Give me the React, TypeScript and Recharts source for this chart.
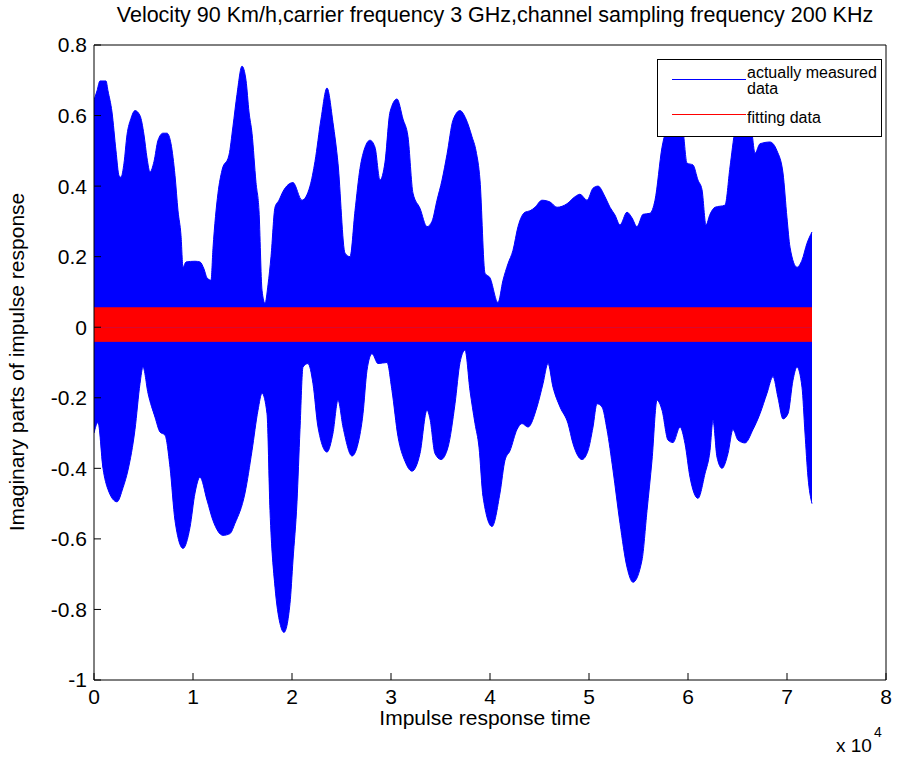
import React from 'react';
import { ComposedChart, Area, XAxis, YAxis } from 'recharts';

// Envelope of the measured (blue) impulse response: [time, value]
const measuredUpper: [number, number][] = [
  [0,0.644],[303,0.67],[606,0.698],[1212,0.698],[1414,0.67],[1818,0.61],[2222,0.50],[2525,0.43],[2727,0.425],[3030,0.465],
  [3333,0.545],[3737,0.592],[4141,0.614],[4646,0.60],[5051,0.545],[5354,0.48],[5657,0.44],[6061,0.47],[6465,0.53],[6970,0.55],
  [7374,0.55],[7778,0.52],[8182,0.43],[8485,0.33],[8788,0.26],[8990,0.17],[9293,0.185],[10202,0.187],[10707,0.185],[11111,0.165],
  [11414,0.14],[11818,0.133],[12020,0.224],[12525,0.38],[12929,0.445],[13636,0.488],[14040,0.57],[14444,0.66],[14949,0.74],[15354,0.70],
  [15657,0.61],[15960,0.55],[16364,0.41],[16667,0.33],[16970,0.105],[17273,0.068],[17576,0.12],[17879,0.2],[18283,0.34],[18687,0.36],
  [19091,0.385],[20101,0.41],[21010,0.36],[21818,0.40],[22323,0.47],[22929,0.59],[23535,0.678],[24141,0.58],[24646,0.465],[25354,0.21],
  [25859,0.2],[26364,0.33],[26869,0.45],[27374,0.51],[27879,0.53],[28384,0.51],[28889,0.417],[29394,0.468],[29899,0.61],[30606,0.647],
  [31212,0.59],[31717,0.54],[32222,0.38],[32929,0.337],[33636,0.285],[34141,0.30],[34646,0.36],[35152,0.417],[35657,0.49],[36263,0.587],
  [36970,0.614],[37576,0.59],[38182,0.54],[38586,0.50],[38990,0.417],[39495,0.153],[40000,0.14],[40808,0.07],[41313,0.133],[41818,0.18],
  [42323,0.218],[42828,0.285],[43535,0.326],[44040,0.33],[44545,0.34],[45253,0.36],[46061,0.355],[46768,0.34],[47778,0.35],[48586,0.37],
  [49091,0.377],[49798,0.36],[50404,0.394],[50909,0.40],[51616,0.37],[52121,0.34],[52626,0.318],[53131,0.29],[53838,0.326],[54343,0.31],
  [54848,0.285],[55455,0.32],[56162,0.323],[56667,0.36],[57374,0.51],[57778,0.56],[58384,0.62],[58990,0.62],[59495,0.56],[59899,0.465],
  [60505,0.46],[61010,0.417],[61414,0.39],[61818,0.29],[62222,0.32],[62727,0.34],[63737,0.346],[64242,0.454],[64747,0.56],[65758,0.64],
  [66465,0.55],[66768,0.493],[67273,0.52],[68283,0.525],[68990,0.50],[69596,0.437],[69999,0.31],[70303,0.227],[71010,0.17],[71515,0.19],
  [72020,0.238],[72525,0.27],
];

const measuredLower: [number, number][] = [
  [0,-0.30],[404,-0.27],[909,-0.40],[1414,-0.46],[2323,-0.495],[2929,-0.455],[3434,-0.405],[4141,-0.29],[4646,-0.16],[4949,-0.113],
  [5455,-0.187],[6162,-0.255],[6667,-0.297],[7172,-0.306],[7677,-0.397],[8182,-0.548],[8990,-0.627],[9697,-0.567],[10202,-0.47],[10707,-0.425],
  [11414,-0.49],[12020,-0.548],[13030,-0.59],[13737,-0.585],[14242,-0.556],[15253,-0.47],[15960,-0.35],[16566,-0.235],[16970,-0.187],[17475,-0.245],
  [17778,-0.52],[18283,-0.737],[18788,-0.84],[19192,-0.865],[19798,-0.783],[20101,-0.66],[20505,-0.495],[20808,-0.29],[21111,-0.113],[21616,-0.103],
  [22121,-0.16],[22626,-0.283],[23535,-0.354],[24141,-0.30],[24646,-0.207],[25152,-0.283],[26061,-0.365],[26667,-0.33],[27172,-0.245],[27576,-0.122],
  [28081,-0.075],[28687,-0.103],[29596,-0.10],[30101,-0.18],[30707,-0.31],[31414,-0.38],[32121,-0.408],[32929,-0.358],[33636,-0.235],[33939,-0.26],
  [34444,-0.358],[35051,-0.375],[35758,-0.34],[36465,-0.217],[36970,-0.10],[37475,-0.065],[37980,-0.18],[38485,-0.273],[38889,-0.34],[39293,-0.48],
  [40202,-0.565],[41010,-0.47],[41515,-0.377],[42020,-0.35],[42727,-0.29],[43232,-0.273],[43838,-0.283],[44747,-0.226],[45354,-0.16],[45859,-0.103],
  [46364,-0.17],[47071,-0.226],[47879,-0.273],[48384,-0.33],[49293,-0.375],[49899,-0.35],[50404,-0.283],[50808,-0.217],[51313,-0.226],[51818,-0.29],
  [52424,-0.405],[53131,-0.556],[53838,-0.68],[54444,-0.723],[55354,-0.66],[55859,-0.52],[56364,-0.377],[56869,-0.207],[57374,-0.235],[57980,-0.32],
  [58485,-0.327],[59192,-0.283],[59697,-0.33],[60202,-0.425],[61010,-0.485],[61717,-0.415],[62222,-0.35],[62525,-0.264],[62929,-0.368],[63434,-0.40],
  [64040,-0.358],[64545,-0.29],[65051,-0.32],[65758,-0.328],[66566,-0.29],[67273,-0.245],[67980,-0.187],[68586,-0.14],[69091,-0.20],[69596,-0.26],
  [70101,-0.245],[70606,-0.15],[71010,-0.113],[71515,-0.17],[71818,-0.30],[72121,-0.425],[72525,-0.50],
];

// Fitting data (red) band: [time, upper, lower]
const fittingBand: [number, number, number][] = [
  [0, 0.055, -0.04],
  [72525, 0.055, -0.04],
];

const xTicks = [0, 10000, 20000, 30000, 40000, 50000, 60000, 70000, 80000];
const yTicks = [-1, -0.8, -0.6, -0.4, -0.2, 0, 0.2, 0.4, 0.6, 0.8];

const title = 'Velocity 90 Km/h,carrier frequency 3 GHz,channel sampling frequency 200 KHz';
const xLabel = 'Impulse response time';
const yLabel = 'Imaginary parts of impulse response';
const legendMeasured = ['actually measured', 'data'];
const legendFitting = 'fitting data';

type Row = { x: number; hi?: number; lo?: number; fhi?: number; flo?: number };

const rows: Row[] = [
  ...measuredUpper.map(([x, v]) => ({ x, hi: v })),
  ...measuredLower.map(([x, v]) => ({ x, lo: v })),
  ...fittingBand.map(([x, h, l]) => ({ x, fhi: h, flo: l })),
].sort((a, b) => a.x - b.x);

const FONT = '"Liberation Sans", Arial, Helvetica, sans-serif';
const W = 900;
const H = 757;

const tickStyle = { fill: '#000', fontSize: 21, fontFamily: FONT };
const fmtX = (v: number) => String(v / 10000);
const fmtY = (v: number) => String(Math.round(v * 10) / 10);

export default function App() {
  return (
    <div style={{ position: 'absolute', left: 0, top: 0, width: W, height: H, background: '#fff', overflow: 'hidden' }}>
      <ComposedChart
        width={W}
        height={H}
        data={rows}
        margin={{ top: 40, right: 9, bottom: 47, left: 34 }}
      >
        <XAxis
          dataKey="x"
          type="number"
          domain={[0, 80000]}
          ticks={xTicks}
          interval={0}
          tickFormatter={fmtX}
          tick={tickStyle}
          tickSize={-7}
          tickMargin={16}
          height={30}
          axisLine={{ stroke: '#000' }}
          tickLine={{ stroke: '#000' }}
          allowDataOverflow
        />
        <XAxis
          xAxisId="top"
          orientation="top"
          dataKey="x"
          type="number"
          domain={[0, 80000]}
          ticks={xTicks}
          interval={0}
          tick={false}
          tickSize={-7}
          height={5}
          axisLine={{ stroke: '#000' }}
          tickLine={{ stroke: '#000' }}
          allowDataOverflow
        />
        <YAxis
          type="number"
          domain={[-1, 0.8]}
          ticks={yTicks}
          interval={0}
          tickFormatter={fmtY}
          tick={tickStyle}
          tickSize={-7}
          tickMargin={14}
          width={60}
          axisLine={{ stroke: '#000' }}
          tickLine={{ stroke: '#000' }}
          allowDataOverflow
        />
        <YAxis
          yAxisId="right"
          orientation="right"
          type="number"
          domain={[-1, 0.8]}
          ticks={yTicks}
          interval={0}
          tick={false}
          tickSize={-7}
          width={5}
          axisLine={{ stroke: '#000' }}
          tickLine={{ stroke: '#000' }}
          allowDataOverflow
        />
        <Area dataKey="hi" type="monotone" baseValue={0} connectNulls stroke="#0000ff" strokeWidth={1} fill="#0000ff" fillOpacity={1} isAnimationActive={false} dot={false} activeDot={false} />
        <Area dataKey="lo" type="monotone" baseValue={0} connectNulls stroke="#0000ff" strokeWidth={1} fill="#0000ff" fillOpacity={1} isAnimationActive={false} dot={false} activeDot={false} />
        <Area dataKey="fhi" type="linear" baseValue={0} connectNulls stroke="#ff0000" strokeWidth={1} fill="#ff0000" fillOpacity={1} isAnimationActive={false} dot={false} activeDot={false} />
        <Area dataKey="flo" type="linear" baseValue={0} connectNulls stroke="#ff0000" strokeWidth={1} fill="#ff0000" fillOpacity={1} isAnimationActive={false} dot={false} activeDot={false} />
      </ComposedChart>
      <svg width={W} height={H} style={{ position: 'absolute', left: 0, top: 0, pointerEvents: 'none' }} fontFamily={FONT}>
        <text x={495} y={22} textAnchor="middle" fontSize={21.5} fill="#000">{title}</text>
        <text x={485} y={725} textAnchor="middle" fontSize={21} fill="#000">{xLabel}</text>
        <text transform="translate(24,362) rotate(-90)" textAnchor="middle" fontSize={21} fill="#000">{yLabel}</text>
        <text x={836} y={752} fontSize={19} fill="#000">x 10</text>
        <text x={874} y={737} fontSize={14} fill="#000">4</text>
        <rect x={657.5} y={59.5} width={224} height={77} fill="#fff" stroke="#000" strokeWidth={1} />
        <line x1={672} y1={79.5} x2={746} y2={79.5} stroke="#0000ff" strokeWidth={1.2} />
        <line x1={672} y1={114.5} x2={746} y2={114.5} stroke="#ff0000" strokeWidth={1} />
        <text x={747} y={78} fontSize={16} fill="#000">{legendMeasured[0]}</text>
        <text x={747} y={94} fontSize={16} fill="#000">{legendMeasured[1]}</text>
        <text x={747} y={123} fontSize={16} fill="#000">{legendFitting}</text>
      </svg>
    </div>
  );
}
